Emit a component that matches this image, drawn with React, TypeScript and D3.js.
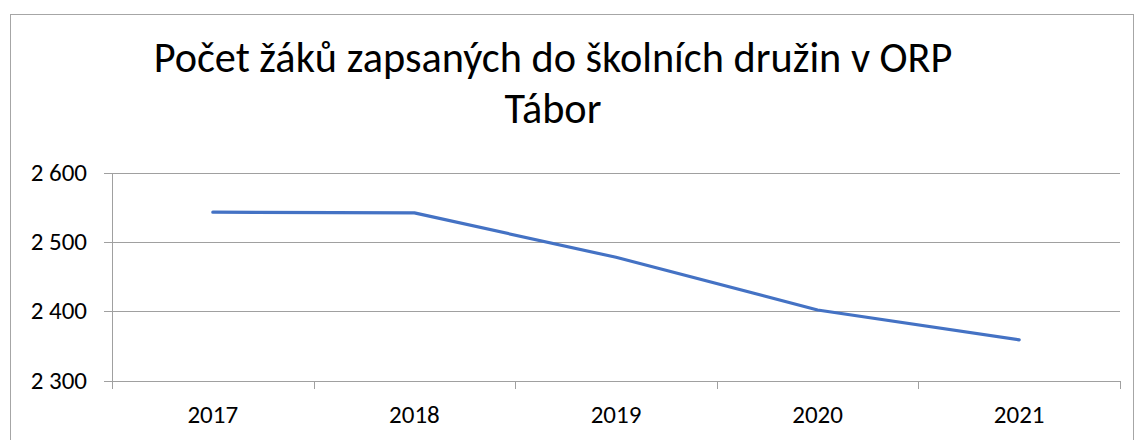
import React, { useEffect, useRef } from 'react';
import * as d3 from 'd3';

const years = ['2017', '2018', '2019', '2020', '2021'];
const pupils = [2543, 2542, 2478, 2402, 2359];
const yTicks = [2300, 2400, 2500, 2600];
const titleLines = ['Počet žáků zapsaných do školních družin v ORP', 'Tábor'];

const App = () => {
  const svgRef = useRef<SVGSVGElement>(null);

  useEffect(() => {
    const svg = d3.select(svgRef.current);
    svg.selectAll('*').remove();

    const W = 1134;
    const H = 440;
    const left = 112;
    const right = 1120;
    const top = 172.7;
    const bottom = 380.7;
    const font = 'Carlito, Calibri, "Open Sans", sans-serif';

    svg.attr('width', W).attr('height', H);

    // outer chart frame
    svg.append('rect')
      .attr('x', 10.5)
      .attr('y', 14.5)
      .attr('width', W - 11)
      .attr('height', H)
      .attr('fill', 'white')
      .attr('stroke', '#a6a6a6')
      .attr('stroke-width', 1);

    const x = d3.scaleBand().domain(years).range([left, right]);
    const y = d3.scaleLinear().domain([2300, 2600]).range([bottom, top]);

    // horizontal gridlines + small tick stubs
    svg.append('g')
      .selectAll('line')
      .data(yTicks)
      .enter()
      .append('line')
      .attr('x1', left - 8)
      .attr('x2', right)
      .attr('y1', d => Math.round(y(d)) + 0.5)
      .attr('y2', d => Math.round(y(d)) + 0.5)
      .attr('stroke', '#a0a0a0')
      .attr('stroke-width', 1);

    // y axis line
    svg.append('line')
      .attr('x1', left + 0.5)
      .attr('x2', left + 0.5)
      .attr('y1', Math.round(top))
      .attr('y2', Math.round(bottom) + 8)
      .attr('stroke', '#a0a0a0');

    // category ticks
    const boundaries = years.map(d => x(d)! + x.bandwidth());
    svg.append('g')
      .selectAll('line')
      .data(boundaries)
      .enter()
      .append('line')
      .attr('x1', d => Math.round(d) + 0.5)
      .attr('x2', d => Math.round(d) + 0.5)
      .attr('y1', Math.round(bottom))
      .attr('y2', Math.round(bottom) + 8)
      .attr('stroke', '#a0a0a0');

    // y labels
    svg.append('g')
      .selectAll('text')
      .data(yTicks)
      .enter()
      .append('text')
      .attr('x', 87)
      .attr('y', d => y(d) + 8)
      .attr('text-anchor', 'end')
      .style('font-family', font)
      .style('font-size', '25px')
      .style('fill', '#000')
      .text(d => d3.format(',')(d).replace(',', ' '));

    // x labels
    svg.append('g')
      .selectAll('text')
      .data(years)
      .enter()
      .append('text')
      .attr('x', d => x(d)! + x.bandwidth() / 2)
      .attr('y', 423)
      .attr('text-anchor', 'middle')
      .style('font-family', font)
      .style('font-size', '25px')
      .style('fill', '#000')
      .text(d => d);

    // series line
    const line = d3.line<number>()
      .x((_, i) => x(years[i])! + x.bandwidth() / 2)
      .y(d => y(d));

    svg.append('path')
      .datum(pupils)
      .attr('d', line)
      .attr('fill', 'none')
      .attr('stroke', '#4472c4')
      .attr('stroke-width', 3.2)
      .attr('stroke-linecap', 'round')
      .attr('stroke-linejoin', 'round');

    // title
    svg.append('g')
      .selectAll('text')
      .data(titleLines)
      .enter()
      .append('text')
      .attr('x', 553)
      .attr('y', (_, i) => 72 + i * 51)
      .attr('text-anchor', 'middle')
      .style('font-family', font)
      .style('font-size', '42.3px')
      .style('fill', '#000')
      .text(d => d);
  }, []);

  return <svg ref={svgRef} style={{ position: 'absolute', left: 0, top: 0 }}></svg>;
};

export default App;
